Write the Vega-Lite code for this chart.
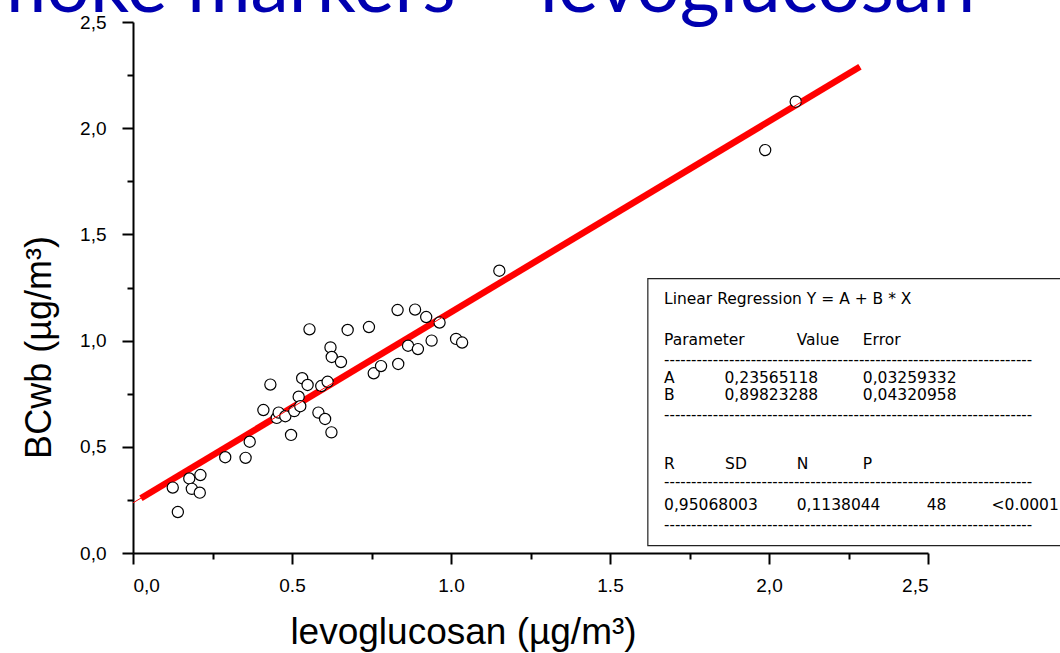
{
  "$schema": "https://vega.github.io/schema/vega-lite/v6.json",
  "width": 795,
  "height": 531,
  "autosize": {"type": "none"},
  "padding": {"left": 133, "top": 22, "right": 132, "bottom": 100},
  "background": "white",
  "config": {
    "view": {"stroke": null},
    "axis": {
      "grid": false,
      "domainColor": "black",
      "domainWidth": 2,
      "tickColor": "black",
      "tickWidth": 2,
      "labelFont": "Liberation Sans",
      "labelFontSize": 19,
      "labelColor": "black",
      "titleFont": "Liberation Sans",
      "titleFontSize": 36,
      "titleFontWeight": "normal",
      "titleColor": "black"
    }
  },
  "datasets": {
    "obs": [
      {"levoglucosan": 0.125, "BCwb": 0.308},
      {"levoglucosan": 0.141, "BCwb": 0.193},
      {"levoglucosan": 0.177, "BCwb": 0.351},
      {"levoglucosan": 0.185, "BCwb": 0.302},
      {"levoglucosan": 0.210, "BCwb": 0.284},
      {"levoglucosan": 0.212, "BCwb": 0.367},
      {"levoglucosan": 0.290, "BCwb": 0.451},
      {"levoglucosan": 0.354, "BCwb": 0.448},
      {"levoglucosan": 0.367, "BCwb": 0.524},
      {"levoglucosan": 0.410, "BCwb": 0.673},
      {"levoglucosan": 0.432, "BCwb": 0.793},
      {"levoglucosan": 0.452, "BCwb": 0.636},
      {"levoglucosan": 0.458, "BCwb": 0.661},
      {"levoglucosan": 0.479, "BCwb": 0.644},
      {"levoglucosan": 0.497, "BCwb": 0.556},
      {"levoglucosan": 0.507, "BCwb": 0.668},
      {"levoglucosan": 0.521, "BCwb": 0.736},
      {"levoglucosan": 0.526, "BCwb": 0.691},
      {"levoglucosan": 0.532, "BCwb": 0.823},
      {"levoglucosan": 0.549, "BCwb": 0.791},
      {"levoglucosan": 0.555, "BCwb": 1.053},
      {"levoglucosan": 0.583, "BCwb": 0.661},
      {"levoglucosan": 0.592, "BCwb": 0.786},
      {"levoglucosan": 0.604, "BCwb": 0.631},
      {"levoglucosan": 0.612, "BCwb": 0.806},
      {"levoglucosan": 0.621, "BCwb": 0.968},
      {"levoglucosan": 0.625, "BCwb": 0.923},
      {"levoglucosan": 0.624, "BCwb": 0.568},
      {"levoglucosan": 0.654, "BCwb": 0.899},
      {"levoglucosan": 0.675, "BCwb": 1.050},
      {"levoglucosan": 0.742, "BCwb": 1.064},
      {"levoglucosan": 0.757, "BCwb": 0.846},
      {"levoglucosan": 0.780, "BCwb": 0.880},
      {"levoglucosan": 0.832, "BCwb": 1.144},
      {"levoglucosan": 0.834, "BCwb": 0.890},
      {"levoglucosan": 0.865, "BCwb": 0.976},
      {"levoglucosan": 0.887, "BCwb": 1.146},
      {"levoglucosan": 0.896, "BCwb": 0.960},
      {"levoglucosan": 0.922, "BCwb": 1.111},
      {"levoglucosan": 0.939, "BCwb": 1.000},
      {"levoglucosan": 0.964, "BCwb": 1.085},
      {"levoglucosan": 1.016, "BCwb": 1.008},
      {"levoglucosan": 1.035, "BCwb": 0.991},
      {"levoglucosan": 1.152, "BCwb": 1.329},
      {"levoglucosan": 1.988, "BCwb": 1.897},
      {"levoglucosan": 2.084, "BCwb": 2.125}
    ],
    "fit": [
      {"levoglucosan": 0.025, "BCwb": 0.258},
      {"levoglucosan": 2.286, "BCwb": 2.289}
    ],
    "fitThin": [
      {"levoglucosan": 0.0, "BCwb": 0.236},
      {"levoglucosan": 2.286, "BCwb": 2.289}
    ]
  },
  "layer": [
    {
      "data": {"name": "fit"},
      "mark": {"type": "line", "color": "#ff0000", "strokeWidth": 6.5, "strokeCap": "butt"},
      "encoding": {
        "x": {
          "field": "levoglucosan",
          "type": "quantitative",
          "scale": {"domain": [0, 2.5], "nice": false, "zero": false},
          "axis": {
            "values": [0, 0.25, 0.5, 0.75, 1, 1.25, 1.5, 1.75, 2, 2.25, 2.5],
            "tickSize": {"condition": {"test": "(datum.value*2) % 1 == 0", "value": 11}, "value": 6},
            "labelPadding": 12,
            "labelExpr": "datum.value == 0.5 || datum.value == 1 || datum.value == 1.5 ? format(datum.value, '.1f') : ((datum.value*2) % 1 == 0 ? replace(format(datum.value, '.1f'), '.', ',') : '')",
            "title": "levoglucosan (µg/m³)",
            "titleFontSize": 37,
            "titleX": 330,
            "titleY": 90,
            "titleAlign": "center",
            "titleBaseline": "alphabetic",
            "titleAnchor": null
          }
        },
        "y": {
          "field": "BCwb",
          "type": "quantitative",
          "scale": {"domain": [0, 2.5], "nice": false, "zero": false},
          "axis": {
            "values": [0, 0.25, 0.5, 0.75, 1, 1.25, 1.5, 1.75, 2, 2.25, 2.5],
            "tickSize": {"condition": {"test": "(datum.value*2) % 1 == 0", "value": 11}, "value": 6},
            "labelPadding": 16,
            "labelExpr": "(datum.value*2) % 1 == 0 ? replace(format(datum.value, '.1f'), '.', ',') : ''",
            "title": "BCwb (µg/m³)",
            "titleX": -83,
            "titleY": 325,
            "titleAlign": "center",
            "titleBaseline": "alphabetic",
            "titleAngle": -90
          }
        }
      }
    },
    {
      "data": {"name": "obs"},
      "mark": {"type": "point", "shape": "circle", "filled": true, "fill": "white", "stroke": "black", "strokeWidth": 1.2, "size": 125, "opacity": 1},
      "encoding": {
        "x": {"field": "levoglucosan", "type": "quantitative"},
        "y": {"field": "BCwb", "type": "quantitative"}
      }
    },
    {
      "data": {"name": "fitThin"},
      "mark": {"type": "line", "color": "#ff0000", "strokeWidth": 1},
      "encoding": {
        "x": {"field": "levoglucosan", "type": "quantitative"},
        "y": {"field": "BCwb", "type": "quantitative"}
      }
    },
    {
      "data": {"values": [{}]},
      "mark": {"type": "text", "text": "Smoke markers – levoglucosan", "align": "left", "baseline": "alphabetic", "font": "Lato", "fontSize": 77, "color": "#0000b0", "clip": false},
      "encoding": {"x": {"datum": -0.6006}, "y": {"datum": 2.549}}
    },
    {
      "data": {"values": [{}]},
      "mark": {"type": "rect", "fill": "white", "stroke": "#222222", "strokeWidth": 1.2},
      "encoding": {"x": {"datum": 1.619}, "x2": {"datum": 3.2}, "y": {"datum": 1.292}, "y2": {"datum": 0.035}}
    },
    {"data": {"values": [{}]}, "mark": {"type": "text", "text": "Linear Regression Y = A + B * X", "align": "left", "baseline": "middle", "font": "DejaVu Sans", "fontSize": 15.5, "color": "black"}, "encoding": {"x": {"datum": 1.670}, "y": {"datum": 1.198}}},
    {"data": {"values": [{}]}, "mark": {"type": "text", "text": "Parameter", "align": "left", "baseline": "middle", "font": "DejaVu Sans", "fontSize": 15.5, "color": "black"}, "encoding": {"x": {"datum": 1.670}, "y": {"datum": 1.005}}},
    {"data": {"values": [{}]}, "mark": {"type": "text", "text": "Value", "align": "left", "baseline": "middle", "font": "DejaVu Sans", "fontSize": 15.5, "color": "black"}, "encoding": {"x": {"datum": 2.087}, "y": {"datum": 1.005}}},
    {"data": {"values": [{}]}, "mark": {"type": "text", "text": "Error", "align": "left", "baseline": "middle", "font": "DejaVu Sans", "fontSize": 15.5, "color": "black"}, "encoding": {"x": {"datum": 2.295}, "y": {"datum": 1.005}}},
    {"data": {"values": [{}]}, "mark": {"type": "text", "text": "A", "align": "left", "baseline": "middle", "font": "DejaVu Sans", "fontSize": 15.5, "color": "black"}, "encoding": {"x": {"datum": 1.670}, "y": {"datum": 0.826}}},
    {"data": {"values": [{}]}, "mark": {"type": "text", "text": "0,23565118", "align": "left", "baseline": "middle", "font": "DejaVu Sans", "fontSize": 15.5, "color": "black"}, "encoding": {"x": {"datum": 1.860}, "y": {"datum": 0.826}}},
    {"data": {"values": [{}]}, "mark": {"type": "text", "text": "0,03259332", "align": "left", "baseline": "middle", "font": "DejaVu Sans", "fontSize": 15.5, "color": "black"}, "encoding": {"x": {"datum": 2.295}, "y": {"datum": 0.826}}},
    {"data": {"values": [{}]}, "mark": {"type": "text", "text": "B", "align": "left", "baseline": "middle", "font": "DejaVu Sans", "fontSize": 15.5, "color": "black"}, "encoding": {"x": {"datum": 1.670}, "y": {"datum": 0.744}}},
    {"data": {"values": [{}]}, "mark": {"type": "text", "text": "0,89823288", "align": "left", "baseline": "middle", "font": "DejaVu Sans", "fontSize": 15.5, "color": "black"}, "encoding": {"x": {"datum": 1.860}, "y": {"datum": 0.744}}},
    {"data": {"values": [{}]}, "mark": {"type": "text", "text": "0,04320958", "align": "left", "baseline": "middle", "font": "DejaVu Sans", "fontSize": 15.5, "color": "black"}, "encoding": {"x": {"datum": 2.295}, "y": {"datum": 0.744}}},
    {"data": {"values": [{}]}, "mark": {"type": "text", "text": "R", "align": "left", "baseline": "middle", "font": "DejaVu Sans", "fontSize": 15.5, "color": "black"}, "encoding": {"x": {"datum": 1.670}, "y": {"datum": 0.421}}},
    {"data": {"values": [{}]}, "mark": {"type": "text", "text": "SD", "align": "left", "baseline": "middle", "font": "DejaVu Sans", "fontSize": 15.5, "color": "black"}, "encoding": {"x": {"datum": 1.862}, "y": {"datum": 0.421}}},
    {"data": {"values": [{}]}, "mark": {"type": "text", "text": "N", "align": "left", "baseline": "middle", "font": "DejaVu Sans", "fontSize": 15.5, "color": "black"}, "encoding": {"x": {"datum": 2.087}, "y": {"datum": 0.421}}},
    {"data": {"values": [{}]}, "mark": {"type": "text", "text": "P", "align": "left", "baseline": "middle", "font": "DejaVu Sans", "fontSize": 15.5, "color": "black"}, "encoding": {"x": {"datum": 2.295}, "y": {"datum": 0.421}}},
    {"data": {"values": [{}]}, "mark": {"type": "text", "text": "0,95068003", "align": "left", "baseline": "middle", "font": "DejaVu Sans", "fontSize": 15.5, "color": "black"}, "encoding": {"x": {"datum": 1.670}, "y": {"datum": 0.228}}},
    {"data": {"values": [{}]}, "mark": {"type": "text", "text": "0,1138044", "align": "left", "baseline": "middle", "font": "DejaVu Sans", "fontSize": 15.5, "color": "black"}, "encoding": {"x": {"datum": 2.087}, "y": {"datum": 0.228}}},
    {"data": {"values": [{}]}, "mark": {"type": "text", "text": "48", "align": "left", "baseline": "middle", "font": "DejaVu Sans", "fontSize": 15.5, "color": "black"}, "encoding": {"x": {"datum": 2.496}, "y": {"datum": 0.228}}},
    {"data": {"values": [{}]}, "mark": {"type": "text", "text": "<0.0001", "align": "left", "baseline": "middle", "font": "DejaVu Sans", "fontSize": 15.5, "color": "black"}, "encoding": {"x": {"datum": 2.70}, "y": {"datum": 0.228}}},
    {"data": {"values": [{}]}, "mark": {"type": "text", "text": "--------------------------------------------------------------------", "align": "left", "baseline": "middle", "font": "DejaVu Sans", "fontSize": 15, "color": "black"}, "encoding": {"x": {"datum": 1.670}, "y": {"datum": 0.911}}},
    {"data": {"values": [{}]}, "mark": {"type": "text", "text": "--------------------------------------------------------------------", "align": "left", "baseline": "middle", "font": "DejaVu Sans", "fontSize": 15, "color": "black"}, "encoding": {"x": {"datum": 1.670}, "y": {"datum": 0.652}}},
    {"data": {"values": [{}]}, "mark": {"type": "text", "text": "--------------------------------------------------------------------", "align": "left", "baseline": "middle", "font": "DejaVu Sans", "fontSize": 15, "color": "black"}, "encoding": {"x": {"datum": 1.670}, "y": {"datum": 0.332}}},
    {"data": {"values": [{}]}, "mark": {"type": "text", "text": "--------------------------------------------------------------------", "align": "left", "baseline": "middle", "font": "DejaVu Sans", "fontSize": 15, "color": "black"}, "encoding": {"x": {"datum": 1.670}, "y": {"datum": 0.134}}}
  ]
}
